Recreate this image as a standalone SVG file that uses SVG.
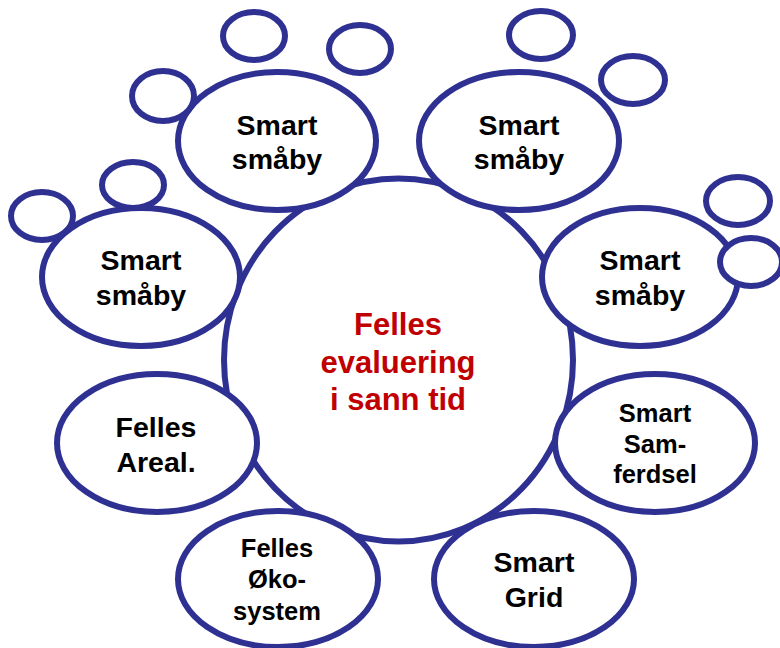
<svg xmlns="http://www.w3.org/2000/svg" width="780" height="648" viewBox="0 0 780 648">
  <style>
    .sh { fill: #ffffff; stroke: #2e3192; stroke-width: 6; }
    .t { font-family: "Liberation Sans", Arial, sans-serif; font-weight: bold; text-anchor: middle; fill: #000000; }
    .c { fill: #c00000; font-size: 31px; }
    .l { font-size: 28.5px; }
    .s { font-size: 25.5px; }
  </style>
  <rect width="780" height="648" fill="#ffffff"/>
  <g id="connectors"/>
  <g id="center">
    <ellipse class="sh" cx="398.5" cy="360" rx="174.5" ry="181.5"/>
    <text class="t c" x="398" y="335">Felles</text>
    <text class="t c" x="398" y="372.5">evaluering</text>
    <text class="t c" x="398" y="410">i sann tid</text>
  </g>
  <g id="smaaby-top-left">
    <ellipse class="sh" cx="277" cy="141" rx="99" ry="69"/>
    <text class="t l" x="277" y="135">Smart</text>
    <text class="t l" x="277" y="169">småby</text>
  </g>
  <g id="smaaby-top-right">
    <ellipse class="sh" cx="519" cy="141" rx="100" ry="69"/>
    <text class="t l" x="519" y="135">Smart</text>
    <text class="t l" x="519" y="169">småby</text>
  </g>
  <g id="smaaby-left">
    <ellipse class="sh" cx="141" cy="277" rx="99" ry="69"/>
    <text class="t l" x="141" y="270">Smart</text>
    <text class="t l" x="141" y="305">småby</text>
  </g>
  <g id="smaaby-right">
    <ellipse class="sh" cx="640" cy="277" rx="98" ry="69"/>
    <text class="t l" x="640" y="270">Smart</text>
    <text class="t l" x="640" y="305">småby</text>
  </g>
  <g id="felles-areal">
    <ellipse class="sh" cx="157" cy="443" rx="100" ry="69"/>
    <text class="t l" x="156" y="437">Felles</text>
    <text class="t l" x="156" y="472">Areal.</text>
  </g>
  <g id="smart-samferdsel">
    <ellipse class="sh" cx="655" cy="443" rx="100" ry="69"/>
    <text class="t s" x="655" y="422">Smart</text>
    <text class="t s" x="655" y="453">Sam-</text>
    <text class="t s" x="655" y="483">ferdsel</text>
  </g>
  <g id="felles-okosystem">
    <ellipse class="sh" cx="278" cy="579" rx="100" ry="68"/>
    <text class="t s" x="277" y="557">Felles</text>
    <text class="t s" x="277" y="588">Øko-</text>
    <text class="t s" x="277" y="620">system</text>
  </g>
  <g id="smart-grid">
    <ellipse class="sh" cx="534" cy="579" rx="100" ry="68"/>
    <text class="t l" x="534" y="572">Smart</text>
    <text class="t l" x="534" y="607">Grid</text>
  </g>
  <g id="bubble-1"><ellipse class="sh" cx="254" cy="36" rx="31" ry="24"/></g>
  <g id="bubble-2"><ellipse class="sh" cx="360" cy="49" rx="31" ry="24"/></g>
  <g id="bubble-3"><ellipse class="sh" cx="163" cy="96" rx="31" ry="25"/></g>
  <g id="bubble-4"><ellipse class="sh" cx="133" cy="185" rx="31" ry="23"/></g>
  <g id="bubble-5"><ellipse class="sh" cx="42" cy="216" rx="31" ry="24"/></g>
  <g id="bubble-6"><ellipse class="sh" cx="541" cy="35" rx="32" ry="24"/></g>
  <g id="bubble-7"><ellipse class="sh" cx="633" cy="80" rx="32" ry="24"/></g>
  <g id="bubble-8"><ellipse class="sh" cx="738" cy="201" rx="32" ry="24"/></g>
  <g id="bubble-9"><ellipse class="sh" cx="751" cy="262" rx="31" ry="24"/></g>
</svg>
